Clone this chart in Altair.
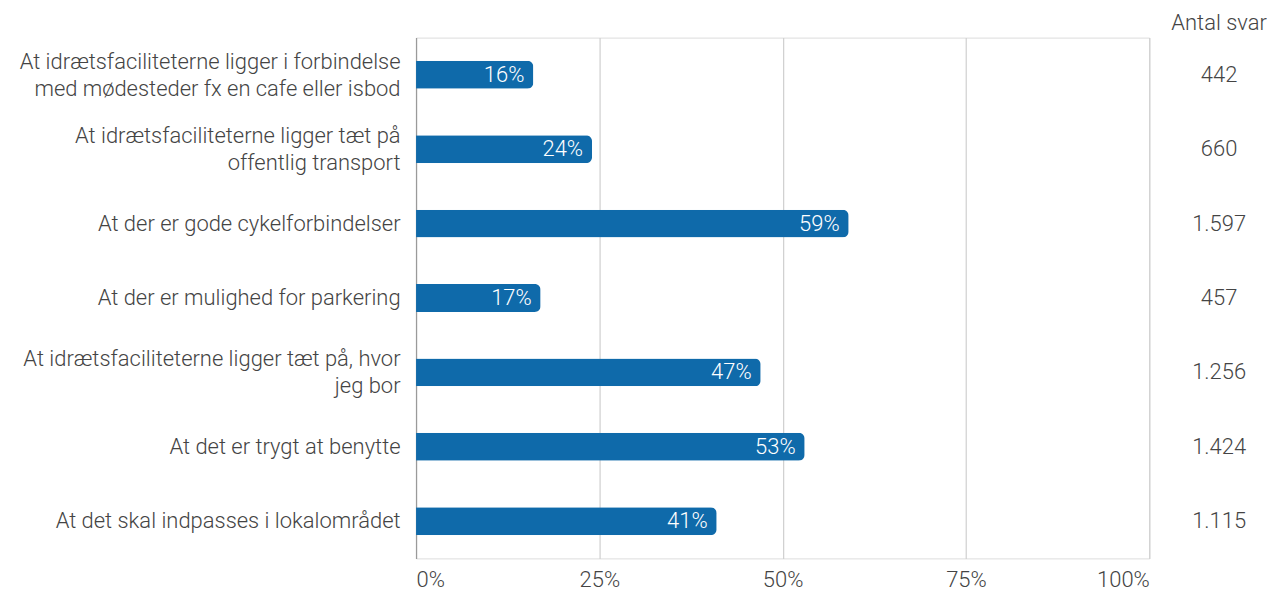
import altair as alt
import pandas as pd

categories = [
    "At idrætsfaciliteterne ligger i forbindelse|med mødesteder fx en cafe eller isbod",
    "At idrætsfaciliteterne ligger tæt på|offentlig transport",
    "At der er gode cykelforbindelser",
    "At der er mulighed for parkering",
    "At idrætsfaciliteterne ligger tæt på, hvor|jeg bor",
    "At det er trygt at benytte",
    "At det skal indpasses i lokalområdet",
]
percent = [16, 24, 59, 17, 47, 53, 41]
antal = [442, 660, 1597, 457, 1256, 1424, 1115]
x_ticks = [0, 25, 50, 75, 100]

df = pd.DataFrame({
    "cat": categories,
    "pct": percent,
    "antal": [f"{n:,}".replace(",", ".") for n in antal],
    "pct_label": [f"{p}%" for p in percent],
})

FONT = "Roboto"
FW = 300
FS = 22
TXT = "#444444"
BLUE = "#0f6aaa"

y_enc = alt.Y(
    "cat:N",
    sort=categories,
    title=None,
    scale=alt.Scale(paddingInner=0.0, paddingOuter=0.0),
    axis=alt.Axis(
        labelExpr="split(datum.label, '|')",
        labelFont=FONT,
        labelFontWeight=FW,
        labelFontSize=FS,
        labelColor=TXT,
        labelLineHeight=27,
        labelOffset=alt.ExprRef("indexof(datum.value, '|') >= 0 ? -13 : 0"),
        labelPadding=16,
        labelLimit=600,
        ticks=False,
        domain=True,
        domainColor="#9a9a9a",
        domainWidth=1.2,
        grid=False,
        minExtent=409,
        maxExtent=409,
    ),
)

x_enc = alt.X(
    "pct:Q",
    title=None,
    scale=alt.Scale(domain=[0, 100], nice=False),
    axis=alt.Axis(
        values=x_ticks,
        labelExpr="datum.value + '%'",
        labelFont=FONT,
        labelFontWeight=FW,
        labelFontSize=FS,
        labelColor=TXT,
        labelPadding=11,
        labelFlush=True,
        ticks=False,
        domain=False,
        grid=True,
        gridColor="#cfcfcf",
        gridWidth=1.2,
    ),
)

bars = alt.Chart(df).mark_bar(
    color=BLUE, size=28, cornerRadiusEnd=6
).encode(x=x_enc, y=y_enc)

bar_text = alt.Chart(df).mark_text(
    align="right", baseline="middle", dx=-9, color="white",
    font=FONT, fontWeight=FW, fontSize=FS
).encode(x="pct:Q", y=alt.Y("cat:N", sort=categories), text="pct_label:N")

count_text = alt.Chart(df).mark_text(
    align="center", baseline="middle", color=TXT, font=FONT, fontWeight=FW, fontSize=FS
).encode(x=alt.value(805), y=alt.Y("cat:N", sort=categories), text="antal:N")

header = alt.Chart(pd.DataFrame({"h": ["Antal svar"]})).mark_text(
    align="center", baseline="middle", color=TXT, font=FONT, fontWeight=FW, fontSize=FS
).encode(x=alt.value(805), y=alt.value(-15), text="h:N")

chart = alt.layer(bars, bar_text, count_text, header).properties(
    width=735, height=522, padding={"left": 0, "top": 3, "right": 0, "bottom": 0}
).configure_view(stroke=None).configure(background="white")

chart.save("out.html", embed_options={"renderer": "svg", "actions": False})
